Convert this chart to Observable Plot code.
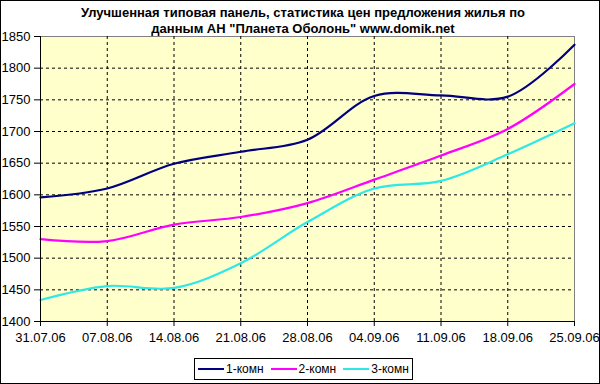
<!DOCTYPE html>
<html><head><meta charset="utf-8">
<script src="https://cdn.jsdelivr.net/npm/d3@7"></script>
<script src="https://cdn.jsdelivr.net/npm/@observablehq/plot@0.6"></script>
<style>
body{margin:0;background:#fff}
#chart{position:relative;width:600px;height:384px;overflow:hidden;font-family:"Liberation Sans",Arial,sans-serif;background:#fff}
#chart svg{position:absolute;left:0;top:0}
#frame{position:absolute;left:0;top:0;width:600px;height:384px;box-sizing:border-box;border:1px solid #000;pointer-events:none}
#title{position:absolute;left:0;width:606px;top:5px;text-align:center;font-weight:bold;font-size:13px;line-height:16px;color:#000}
#legend{position:absolute;left:194px;top:358px;width:219px;height:22px;box-sizing:border-box;border:1px solid #000;background:#fff;display:flex;align-items:center;padding-left:3px;font-size:12px;color:#000;white-space:nowrap}
.item{display:flex;align-items:center;margin-right:7px;flex-shrink:0}
.sw{width:26px;height:2px;margin-right:2px;flex-shrink:0}
</style></head>
<body>
<div id="chart">
<div id="title">Улучшенная типовая панель, статистика цен предложения жилья по<br>данным АН "Планета Оболонь" www.domik.net</div>
<div id="legend"></div>
<div id="frame"></div>
</div>
<script>
const dates = ["2006-07-31","2006-08-07","2006-08-14","2006-08-21","2006-08-28","2006-09-04","2006-09-11","2006-09-18","2006-09-25"];
const room1 = [1596, 1610, 1649, 1668, 1687, 1756, 1757, 1755, 1837];
const room2 = [1530, 1527, 1553, 1565, 1587, 1624, 1662, 1704, 1775];
const room3 = [1434, 1456, 1453, 1492, 1557, 1610, 1622, 1664, 1713];
const seriesNames = ["1-комн", "2-комн", "3-комн"];
const seriesColors = ["#000080", "#FF00FF", "#2EE8E8"];
const yTicks = [1400, 1450, 1500, 1550, 1600, 1650, 1700, 1750, 1800, 1850];

const dateObjs = dates.map(d => new Date(d + "T00:00:00Z"));
const allSeries = [room1, room2, room3];
const data = [];
allSeries.forEach((vals, i) => vals.forEach((v, j) => data.push({date: dateObjs[j], value: v, series: seriesNames[i]})));

const fmt = d3.utcFormat("%d.%m.%y");
const chart = Plot.plot({
  width: 600, height: 384,
  marginLeft: 40, marginRight: 26, marginTop: 36, marginBottom: 63,
  style: {fontFamily: "'Liberation Sans', Arial, sans-serif", fontSize: "13px", color: "#000", background: "transparent", overflow: "visible"},
  x: {type: "utc", domain: [dateObjs[0], dateObjs[dateObjs.length - 1]]},
  y: {domain: [1400, 1850]},
  color: {domain: seriesNames, range: seriesColors},
  marks: [
    Plot.frame({fill: "#FFFFCC", stroke: "#808080"}),
    Plot.gridY(yTicks.slice(1, -1), {stroke: "#000", strokeOpacity: 1, strokeDasharray: "3,3"}),
    Plot.gridX(dateObjs.slice(1, -1), {stroke: "#000", strokeOpacity: 1, strokeDasharray: "3,3"}),
    Plot.line(data, {x: "date", y: "value", stroke: "series", z: "series", curve: "catmull-rom", strokeWidth: 2.2}),
    Plot.ruleX([dateObjs[0]], {stroke: "#000"}),
    Plot.ruleY([1400], {stroke: "#000"}),
    Plot.axisY(yTicks, {tickSize: 6, tickPadding: 4, label: null, stroke: "#000", tickFormat: d => String(d)}),
    Plot.axisX(dateObjs, {tickSize: 5, tickPadding: 6, label: null, tickFormat: fmt, stroke: "#000"})
  ]
});
document.getElementById("chart").insertBefore(chart, document.getElementById("title"));

const legend = document.getElementById("legend");
seriesNames.forEach((name, i) => {
  const item = document.createElement("div");
  item.className = "item";
  const sw = document.createElement("div");
  sw.className = "sw";
  sw.style.background = seriesColors[i];
  const t = document.createElement("span");
  t.textContent = name;
  item.appendChild(sw); item.appendChild(t);
  legend.appendChild(item);
});
</script>
</body></html>
